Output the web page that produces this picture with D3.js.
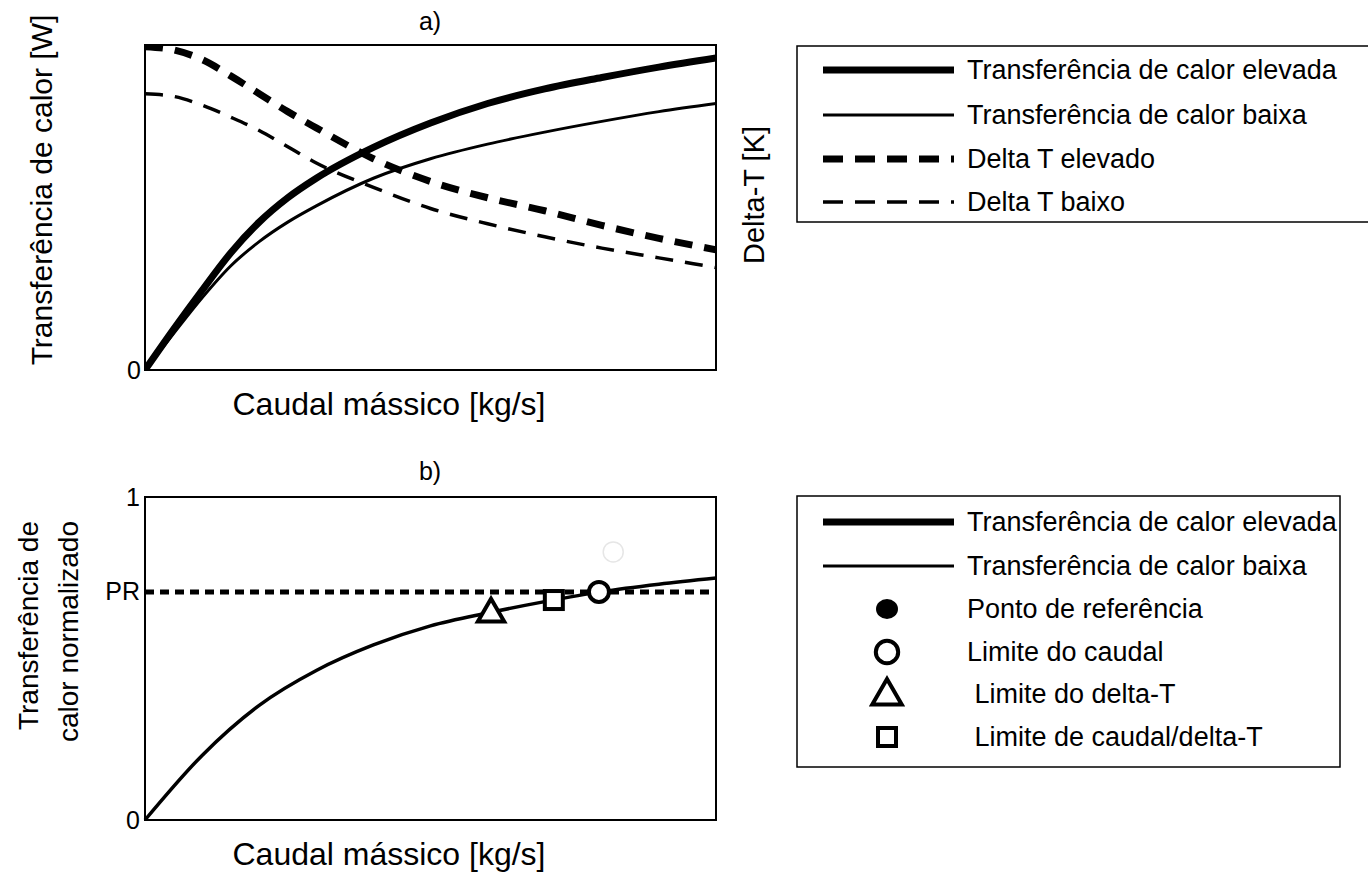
<!DOCTYPE html>
<html>
<head>
<meta charset="utf-8">
<script src="https://cdn.jsdelivr.net/npm/d3@7"></script>
<style>
  body { margin: 0; background: #fff; }
  text { font-family: "Liberation Sans", Arial, sans-serif; fill: #000; white-space: pre; }
</style>
</head>
<body>
<div id="chart"></div>
<script>
// --- data (x = mass flow 0..10, y = 0..1) ---
var xSteps = [0, 0.5, 1, 1.5, 2, 2.5, 3, 4, 5, 6, 7, 8, 9, 10];
var heatHigh = [0, 0.125, 0.245, 0.36, 0.455, 0.53, 0.59, 0.685, 0.76, 0.82, 0.865, 0.90, 0.932, 0.96];
var heatLow = [0, 0.112, 0.222, 0.32, 0.395, 0.455, 0.505, 0.59, 0.65, 0.695, 0.732, 0.765, 0.795, 0.82];
var deltaHigh = [0.995, 0.985, 0.955, 0.905, 0.85, 0.795, 0.745, 0.65, 0.58, 0.53, 0.49, 0.445, 0.405, 0.37];
var deltaLow = [0.85, 0.842, 0.815, 0.778, 0.737, 0.687, 0.637, 0.562, 0.497, 0.45, 0.41, 0.375, 0.345, 0.315];

var normSteps = [0, 1, 2, 3, 4, 5, 6, 7, 8, 9, 10];
var normHeat = [0, 0.20, 0.355, 0.463, 0.542, 0.601, 0.641, 0.676, 0.707, 0.73, 0.749];
var prValue = 0.706;

// markers on curve b)
var markerNames = ["triangle", "square", "circle", "ghost"];
var markerX = [6.06, 7.16, 7.95, 8.2];
var markerY = [0.644, 0.681, 0.706, 0.83];

var legendA = ["Transferência de calor elevada", "Transferência de calor baixa", "Delta T elevado", "Delta T baixo"];
var legendB = ["Transferência de calor elevada", "Transferência de calor baixa", "Ponto de referência", "Limite do caudal", " Limite do delta-T", " Limite de caudal/delta-T"];

var width = 1368, height = 872;
var svg = d3.select("#chart").append("svg")
  .attr("width", width).attr("height", height);

// line styles
var styles = {
  thick: {w: 7, dash: null},
  thin: {w: 3, dash: null},
  thickDash: {w: 7, dash: "18,12"},
  thinDash: {w: 3.5, dash: "18,12"}
};

// ---------- chart a) ----------
var xA = d3.scaleLinear().domain([0, 10]).range([145, 716]);
var yA = d3.scaleLinear().domain([0, 1]).range([370, 45]);

svg.append("clipPath").attr("id", "clipA")
  .append("rect").attr("x", 145).attr("y", 45).attr("width", 571).attr("height", 325);

var lineA = d3.line()
  .x(function(d) { return xA(d[0]); })
  .y(function(d) { return yA(d[1]); })
  .curve(d3.curveMonotoneX);

var seriesA = [
  {vals: heatHigh, st: styles.thick},
  {vals: heatLow, st: styles.thin},
  {vals: deltaHigh, st: styles.thickDash},
  {vals: deltaLow, st: styles.thinDash}
];

svg.append("g").attr("clip-path", "url(#clipA)")
  .selectAll("path").data(seriesA).enter().append("path")
    .attr("d", function(s) { return lineA(xSteps.map(function(x, i) { return [x, s.vals[i]]; })); })
    .attr("fill", "none").attr("stroke", "#000")
    .attr("stroke-width", function(s) { return s.st.w; })
    .attr("stroke-dasharray", function(s) { return s.st.dash; });

svg.append("rect").attr("x", 145).attr("y", 45).attr("width", 571).attr("height", 325)
  .attr("fill", "none").attr("stroke", "#000").attr("stroke-width", 2);

svg.append("g").attr("transform", "translate(145,0)")
  .call(d3.axisLeft(yA).tickValues([0]).tickSize(0).tickPadding(4).tickFormat(d3.format("d")))
  .call(function(g) { g.select(".domain").remove(); })
  .selectAll("text").style("font-size", "25px").style("font-family", "Liberation Sans, Arial");

svg.append("text").attr("x", 430).attr("y", 30).attr("text-anchor", "middle")
  .style("font-size", "25px").text("a)");
svg.append("text").attr("x", 389).attr("y", 415).attr("text-anchor", "middle")
  .style("font-size", "32px").text("Caudal mássico [kg/s]");
svg.append("text").attr("transform", "translate(52,190) rotate(-90)").attr("text-anchor", "middle")
  .style("font-size", "30px").text("Transferência de calor [W]");
svg.append("text").attr("transform", "translate(764,195) rotate(-90)").attr("text-anchor", "middle")
  .style("font-size", "29px").text("Delta-T [K]");

// ---------- chart b) ----------
var xB = d3.scaleLinear().domain([0, 10]).range([145, 716]);
var yB = d3.scaleLinear().domain([0, 1]).range([820, 497]);

svg.append("rect").attr("x", 145).attr("y", 497).attr("width", 571).attr("height", 323)
  .attr("fill", "none").attr("stroke", "#000").attr("stroke-width", 2);

svg.append("line")
  .attr("x1", xB(0)).attr("x2", xB(10)).attr("y1", yB(prValue)).attr("y2", yB(prValue))
  .attr("stroke", "#000").attr("stroke-width", 5).attr("stroke-dasharray", "9,6");

var lineB = d3.line()
  .x(function(d) { return xB(d[0]); })
  .y(function(d) { return yB(d[1]); })
  .curve(d3.curveMonotoneX);

svg.append("path")
  .attr("d", lineB(normSteps.map(function(x, i) { return [x, normHeat[i]]; })))
  .attr("fill", "none").attr("stroke", "#000").attr("stroke-width", 3.5);

function drawMarker(g, name, cx, cy, big) {
  var k = big ? 1.12 : 1;
  if (name === "triangle") {
    g.append("path").attr("d", d3.symbol().type(d3.symbolTriangle).size(300 * k * k)())
      .attr("transform", "translate(" + cx + "," + (cy + 2) + ")")
      .attr("fill", "#fff").attr("stroke", "#000").attr("stroke-width", 4);
  } else if (name === "square") {
    g.append("rect").attr("x", cx - 9).attr("y", cy - 9).attr("width", 18).attr("height", 18)
      .attr("fill", "#fff").attr("stroke", "#000").attr("stroke-width", 4);
  } else if (name === "circle") {
    g.append("circle").attr("cx", cx).attr("cy", cy).attr("r", 10 * k)
      .attr("fill", "#fff").attr("stroke", "#000").attr("stroke-width", 4);
  } else if (name === "ghost") {
    g.append("circle").attr("cx", cx).attr("cy", cy).attr("r", 10)
      .attr("fill", "none").attr("stroke", "#e6e6e6").attr("stroke-width", 1.5);
  } else if (name === "dot") {
    g.append("ellipse").attr("cx", cx).attr("cy", cy).attr("rx", 11).attr("ry", 10).attr("fill", "#000");
  }
}

var mg = svg.append("g");
markerNames.forEach(function(n, i) { drawMarker(mg, n, xB(markerX[i]), yB(markerY[i]), false); });

svg.append("g").attr("transform", "translate(145,0)")
  .call(d3.axisLeft(yB).tickValues([0, prValue, 1]).tickSize(0).tickPadding(5)
    .tickFormat(function(d) { return d === prValue ? "PR" : d3.format("d")(d); }))
  .call(function(g) { g.select(".domain").remove(); })
  .selectAll("text").style("font-size", "25px").style("font-family", "Liberation Sans, Arial");

svg.append("text").attr("x", 430).attr("y", 480).attr("text-anchor", "middle")
  .style("font-size", "25px").text("b)");
svg.append("text").attr("x", 389).attr("y", 865).attr("text-anchor", "middle")
  .style("font-size", "32px").text("Caudal mássico [kg/s]");
svg.append("text").attr("transform", "translate(38,521) rotate(-90)").attr("text-anchor", "end")
  .style("font-size", "28px").text("Transferência de");
svg.append("text").attr("transform", "translate(78,521) rotate(-90)").attr("text-anchor", "end")
  .style("font-size", "28px").text("calor normalizado");

// ---------- legends ----------
function legend(top, h, labels, rowY, kinds, boxRight) {
  var g = svg.append("g");
  g.append("rect").attr("x", 797).attr("y", top).attr("width", boxRight - 797).attr("height", h)
    .attr("fill", "none").attr("stroke", "#000").attr("stroke-width", 1.5);
  labels.forEach(function(t, i) {
    var y = rowY[i], k = kinds[i];
    if (styles[k]) {
      g.append("line").attr("x1", 823).attr("x2", 954).attr("y1", y).attr("y2", y)
        .attr("stroke", "#000").attr("stroke-width", styles[k].w)
        .attr("stroke-dasharray", styles[k].dash ? "20,12" : null);
    } else {
      drawMarker(g, k, 887, y, true);
    }
    g.append("text").attr("x", 967).attr("y", y).attr("dy", "0.35em")
      .style("font-size", "27px").text(t);
  });
}
legend(46, 176, legendA, [70, 115, 159, 202], ["thick", "thin", "thickDash", "thinDash"], 1380);
legend(496, 271, legendB, [522, 566, 609, 652, 694, 737], ["thick", "thin", "dot", "circle", "triangle", "square"], 1340);
</script>
</body>
</html>
